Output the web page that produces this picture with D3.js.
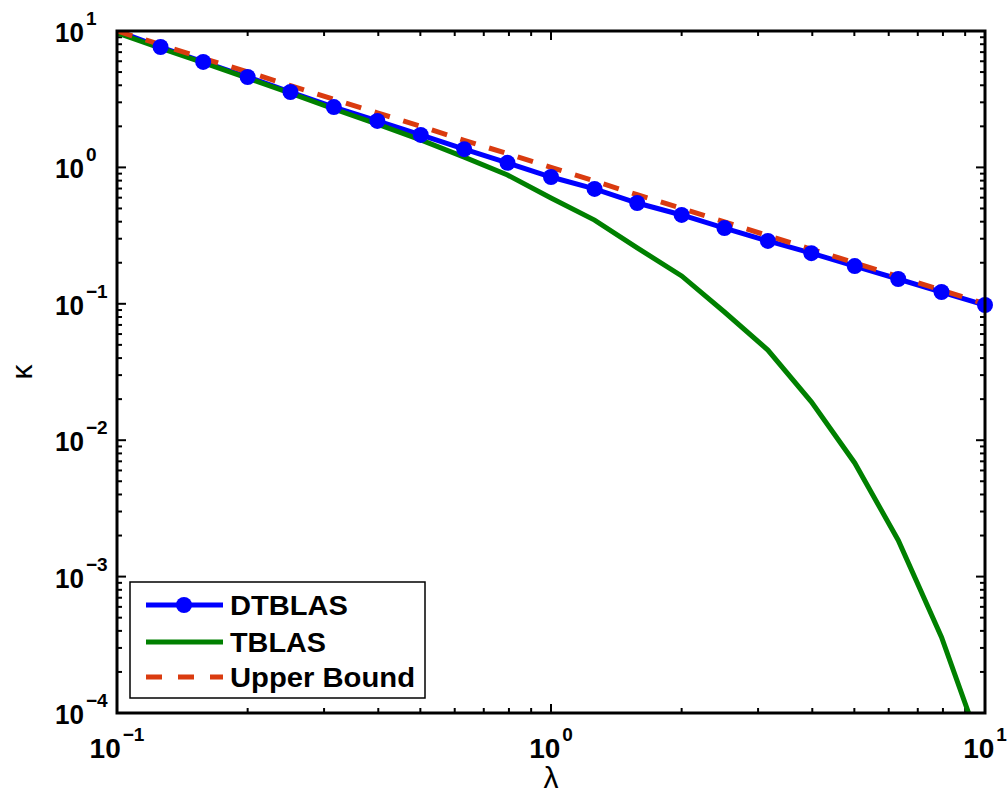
<!DOCTYPE html>
<meta charset="utf-8">
<style>
  body { margin: 0; background: #fff; }
  svg text { font-family: "Liberation Sans", Arial, sans-serif; fill: #000; }
  .tick-lbl { font-weight: bold; }
</style>
<body>
<svg id="chart"></svg>
<script src="https://cdn.jsdelivr.net/npm/d3@7"></script>
<script>

  // data
  var lambda = [0.1, 0.126, 0.158, 0.2, 0.251, 0.316, 0.398, 0.501, 0.631, 0.794, 1,
                1.26, 1.58, 2.0, 2.51, 3.16, 3.98, 5.01, 6.31, 7.94, 10];
  var dtblas = [10, 7.63, 5.93, 4.60, 3.57, 2.77, 2.19, 1.73, 1.36, 1.08, 0.85,
                0.695, 0.548, 0.448, 0.359, 0.289, 0.235, 0.189, 0.152, 0.122, 0.098];
  var tblas  = [9.7, 7.5, 5.86, 4.52, 3.5, 2.68, 2.08, 1.59, 1.19, 0.879, 0.597,
                0.411, 0.257, 0.160, 0.0871, 0.0458, 0.0191, 0.00681, 0.00185, 0.00036, 0.000046];
  var upper  = [10, 7.94, 6.31, 5.01, 3.98, 3.16, 2.51, 2.00, 1.58, 1.26, 1,
                0.794, 0.631, 0.501, 0.398, 0.316, 0.251, 0.200, 0.158, 0.126, 0.1];
  var xTicks = [-1, 0, 1];
  var yTicks = [1, 0, -1, -2, -3, -4];
  var legendNames = ["DTBLAS", "TBLAS", "Upper Bound"];

  var w = 1007, h = 804;
  var pL = 117, pR = 985, pT = 31, pB = 713;

  var svg = d3.select("#chart").attr("width", w).attr("height", h);

  var x = d3.scaleLog().domain([0.1, 10]).range([pL, pR]);
  var y = d3.scaleLog().domain([1e-4, 10]).range([pB, pT]);

  svg.append("clipPath").attr("id", "clip")
    .append("rect")
    .attr("x", pL).attr("y", pT)
    .attr("width", pR - pL).attr("height", pB - pT);

  // ticks (inside, all four sides)
  var g = svg.append("g").attr("stroke", "#000").attr("stroke-width", 2);
  var xMinor = [], yMinor = [];
  for (var e = -1; e < 1; e++) for (var m = 2; m < 10; m++) xMinor.push(m * Math.pow(10, e));
  for (var e = -4; e < 1; e++) for (var m = 2; m < 10; m++) yMinor.push(m * Math.pow(10, e));

  function xt(v, len) {
    g.append("line").attr("x1", x(v)).attr("x2", x(v)).attr("y1", pB).attr("y2", pB - len);
    g.append("line").attr("x1", x(v)).attr("x2", x(v)).attr("y1", pT).attr("y2", pT + len);
  }
  function yt(v, len) {
    g.append("line").attr("y1", y(v)).attr("y2", y(v)).attr("x1", pL).attr("x2", pL + len);
    g.append("line").attr("y1", y(v)).attr("y2", y(v)).attr("x1", pR).attr("x2", pR - len);
  }
  xMinor.forEach(function (v) { xt(v, 5); });
  yMinor.forEach(function (v) { yt(v, 5); });
  xTicks.forEach(function (p) { xt(Math.pow(10, p), 9); });
  yTicks.forEach(function (p) { yt(Math.pow(10, p), 9); });

  // series
  var line = d3.line()
    .x(function (d, i) { return x(lambda[i]); })
    .y(function (d) { return y(d); });

  var plot = svg.append("g").attr("clip-path", "url(#clip)");
  plot.append("path").datum(dtblas).attr("d", line)
    .attr("fill", "none").attr("stroke", "#0000ff").attr("stroke-width", 5);

  svg.selectAll(".mk").data(dtblas.slice(1)).enter().append("circle")
    .attr("cx", function (d, i) { return x(lambda[i + 1]); })
    .attr("cy", function (d) { return y(d); })
    .attr("r", 8).attr("fill", "#0000ff");

  plot.append("path").datum(tblas).attr("d", line)
    .attr("fill", "none").attr("stroke", "#008000").attr("stroke-width", 5);

  plot.append("path").datum(upper).attr("d", line)
    .attr("fill", "none").attr("stroke", "#da3b0f").attr("stroke-width", 5)
    .attr("stroke-dasharray", "16,14");

  // frame
  svg.append("rect")
    .attr("x", pL).attr("y", pT)
    .attr("width", pR - pL).attr("height", pB - pT)
    .attr("fill", "none").attr("stroke", "#000").attr("stroke-width", 3);

  // tick labels
  yTicks.forEach(function (p) {
    var ty = y(Math.pow(10, p));
    svg.append("text").attr("class", "tick-lbl")
      .attr("x", 84).attr("y", ty + 11).attr("text-anchor", "end")
      .attr("font-size", 28).attr("textLength", 29).attr("lengthAdjust", "spacingAndGlyphs")
      .text("10");
    svg.append("text").attr("class", "tick-lbl")
      .attr("x", 86).attr("y", ty - 6)
      .attr("font-size", 19).text(p < 0 ? "\u2212" + (-p) : p);
  });
  xTicks.forEach(function (p) {
    var tx = x(Math.pow(10, p));
    var t = svg.append("text").attr("class", "tick-lbl")
      .attr("x", tx).attr("y", 758).attr("text-anchor", "middle")
      .attr("font-size", 28);
    t.append("tspan").text("10");
    t.append("tspan").attr("dy", -17).attr("dx", 2).attr("font-size", 19)
      .text(p < 0 ? "\u2212" + (-p) : p);
  });

  // axis labels
  svg.append("text").attr("x", (pL + pR) / 2).attr("y", 788)
    .attr("text-anchor", "middle").attr("font-size", 30).text("\u03bb");
  svg.append("text").attr("transform", "translate(32,372) rotate(-90)")
    .attr("text-anchor", "middle").attr("font-size", 30).text("\u03ba");

  // legend
  var lg = svg.append("g");
  lg.append("rect").attr("x", 130).attr("y", 582).attr("width", 295).attr("height", 116)
    .attr("fill", "#fff").attr("stroke", "#000").attr("stroke-width", 1.5);
  var ly = [605, 642, 677];
  var lstyle = [
    { c: "#0000ff", dash: null, mk: true, tw: 118 },
    { c: "#008000", dash: null, mk: false, tw: 96 },
    { c: "#da3b0f", dash: "16,16", mk: false, tw: 185 }
  ];
  legendNames.forEach(function (name, i) {
    var s = lstyle[i];
    var l = lg.append("line").attr("x1", 146).attr("x2", 223)
      .attr("y1", ly[i]).attr("y2", ly[i])
      .attr("stroke", s.c).attr("stroke-width", 5);
    if (s.dash) l.attr("stroke-dasharray", s.dash);
    if (s.mk) lg.append("circle").attr("cx", 184).attr("cy", ly[i]).attr("r", 8).attr("fill", s.c);
    lg.append("text").attr("class", "tick-lbl")
      .attr("x", 230).attr("y", ly[i] + 10).attr("font-size", 27)
      .attr("textLength", s.tw).attr("lengthAdjust", "spacingAndGlyphs")
      .text(name);
  });

</script>
</body>
